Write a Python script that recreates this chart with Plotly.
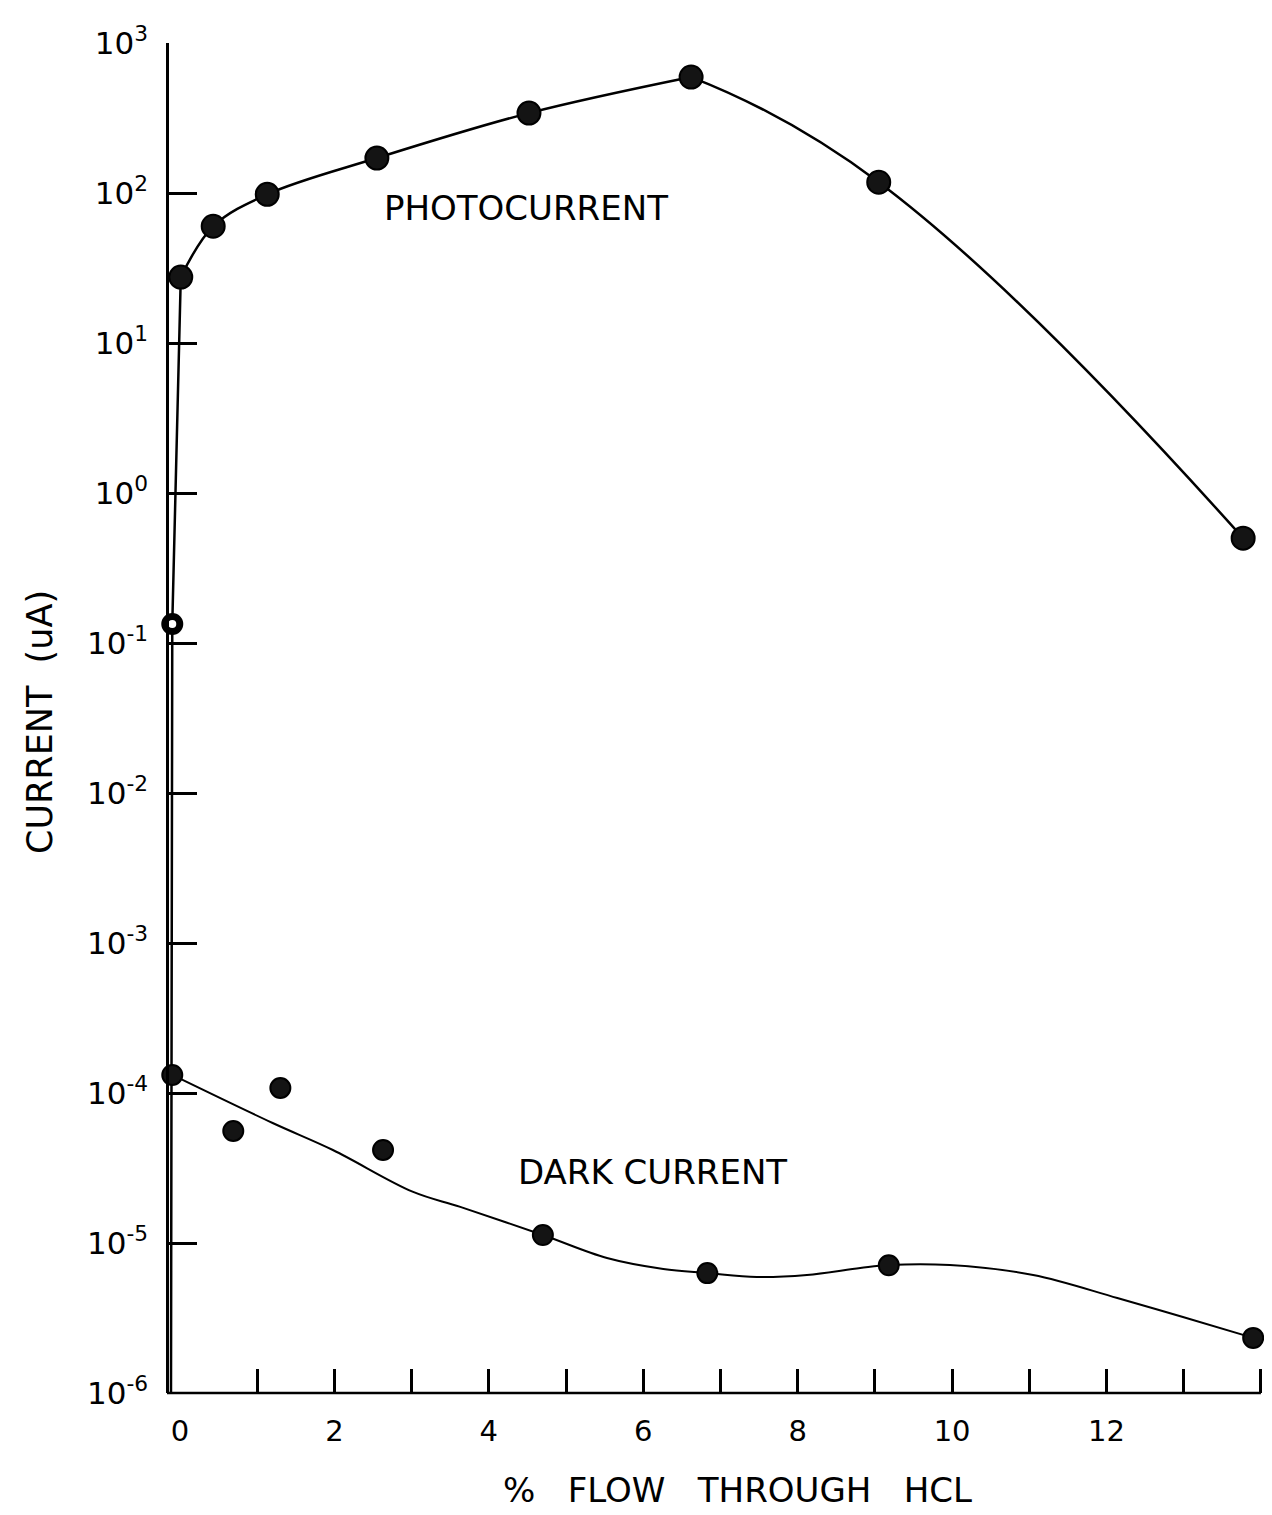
import plotly.graph_objects as go

# % flow through HCl (x) and measured currents in microamps (y)
photo_flow = [-0.12, -0.10, 0.01, 0.43, 1.13, 2.55, 4.52, 6.62, 9.05, 13.77]
photo_current = [1e-7, 0.134, 27.5, 60.0, 98.0, 171.0, 341.0, 593.0, 118.0, 0.50]

dark_flow = [-0.10, 0.69, 1.30, 2.63, 4.70, 6.83, 9.18, 13.90]
dark_current = [1.32e-4, 5.58e-5, 1.08e-4, 4.17e-5, 1.13e-5, 6.3e-6, 7.1e-6, 2.33e-6]

# hand-drawn smoothing curve through the dark-current readings
dark_curve_flow = [-0.10, 1.20, 1.98, 3.02, 3.63, 4.70, 5.53, 6.26, 6.83, 7.47,
                   8.12, 8.81, 9.18, 9.97, 11.05, 12.14, 12.99, 13.90]
dark_curve_current = [1.32e-4, 6.31e-5, 4.17e-5, 2.19e-5, 1.74e-5, 1.13e-5, 7.94e-6,
                      6.71e-6, 6.31e-6, 5.93e-6, 6.12e-6, 6.81e-6, 7.13e-6, 7.13e-6,
                      6.12e-6, 4.30e-6, 3.21e-6, 2.33e-6]

decades = [1e-6, 1e-5, 1e-4, 1e-3, 1e-2, 1e-1, 1e0, 1e1, 1e2, 1e3]
decade_labels = ["10<sup>-6</sup>", "10<sup>-5</sup>", "10<sup>-4</sup>", "10<sup>-3</sup>",
                 "10<sup>-2</sup>", "10<sup>-1</sup>", "10<sup>0</sup>", "10<sup>1</sup>",
                 "10<sup>2</sup>", "10<sup>3</sup>"]
flow_label_vals = [0, 2, 4, 6, 8, 10, 12]
flow_minor_vals = list(range(1, 15))

FONT = "DejaVu Sans"
INK = "black"
FILL = "#141414"

W, H = 1272, 1515
ML, MR, MT, MB = 140, 8, 43, 122
X_MIN, X_MAX = -0.518, 14.04
AXIS_PX = 167                      # pixel column of the vertical current axis
AXIS_X = X_MIN + (AXIS_PX - ML) / (W - ML - MR) * (X_MAX - X_MIN)

def paper_x(px):
    return (px - ML) / (W - ML - MR)

def paper_y(py):
    return (H - MB - py) / (H - MT - MB)

fig = go.Figure()

# photocurrent curve: steep rise at zero flow (first reading is below the
# scale), then a smooth rise to the peak and a smooth fall after it
PEAK = photo_current.index(max(photo_current))
line_pieces = [
    (slice(0, 3), "linear", 1.0),
    (slice(2, PEAK + 1), "spline", 1.0),
    (slice(PEAK, None), "spline", 1.3),
]
for sl, shape, smooth in line_pieces:
    fig.add_trace(go.Scatter(
        x=photo_flow[sl], y=photo_current[sl], mode="lines",
        line=dict(color=INK, width=2.5, shape=shape, smoothing=smooth),
        hoverinfo="skip",
    ))

# photocurrent readings (the off-scale one has no marker)
on_scale = slice(1, None)
n_on = len(photo_flow) - 1
fig.add_trace(go.Scatter(
    x=photo_flow[on_scale], y=photo_current[on_scale], mode="markers",
    marker=dict(size=[15] + [23] * (n_on - 1),
                color=["white"] + [FILL] * (n_on - 1),
                symbol="circle", opacity=1,
                line=dict(color=INK, width=[7] + [2] * (n_on - 1))),
    name="Photocurrent",
))

fig.add_trace(go.Scatter(
    x=dark_curve_flow, y=dark_curve_current, mode="lines",
    line=dict(color=INK, width=2, shape="spline", smoothing=1.0),
    hoverinfo="skip",
))

fig.add_trace(go.Scatter(
    x=dark_flow, y=dark_current, mode="markers",
    marker=dict(size=20, color=FILL, symbol="circle", opacity=1,
                line=dict(color=INK, width=2)),
    name="Dark current",
))

fig.update_layout(
    width=W, height=H,
    margin=dict(l=ML, r=MR, t=MT, b=MB),
    paper_bgcolor="white", plot_bgcolor="white",
    showlegend=False,
    font=dict(family=FONT, color=INK),
    xaxis=dict(
        range=[X_MIN, X_MAX], showgrid=False, zeroline=False, showline=False,
        tickmode="array", tickvals=flow_label_vals,
        ticktext=[str(v) for v in flow_label_vals],
        ticks="", tickfont=dict(size=29, family=FONT, color=INK),
        ticklabelstandoff=18,
        minor=dict(tickmode="array", tickvals=flow_minor_vals, ticks="inside",
                   ticklen=24, tickwidth=2.5, tickcolor=INK, showgrid=False),
    ),
    yaxis=dict(
        type="log", range=[-6, 3], showgrid=False, zeroline=False,
        anchor="free", position=paper_x(AXIS_PX),
        showline=True, linewidth=2.5, linecolor=INK,
        tickmode="array", tickvals=decades, ticktext=decade_labels,
        ticks="inside", ticklen=28, tickwidth=2.5, tickcolor=INK,
        tickfont=dict(size=31, family=FONT, color=INK),
        ticklabelstandoff=12,
    ),
)

# horizontal flow axis starting at the current axis
fig.add_shape(type="line", xref="x", yref="paper", x0=AXIS_X, x1=14.0, y0=0, y1=0,
              line=dict(color=INK, width=2.5))

def label(text, px, py, size, angle=0):
    fig.add_annotation(text=text, xref="paper", yref="paper",
                       x=paper_x(px), y=paper_y(py),
                       xanchor="center", yanchor="middle",
                       showarrow=False, textangle=angle,
                       font=dict(size=size, family=FONT, color=INK))

label("PHOTOCURRENT", 526, 208, 34)
label("DARK CURRENT", 652, 1172, 34)
label("%   FLOW   THROUGH   HCL", 737, 1490, 34)
label("CURRENT  (uA)", 40, 722, 35, angle=-90)

fig.write_html("out.html")
